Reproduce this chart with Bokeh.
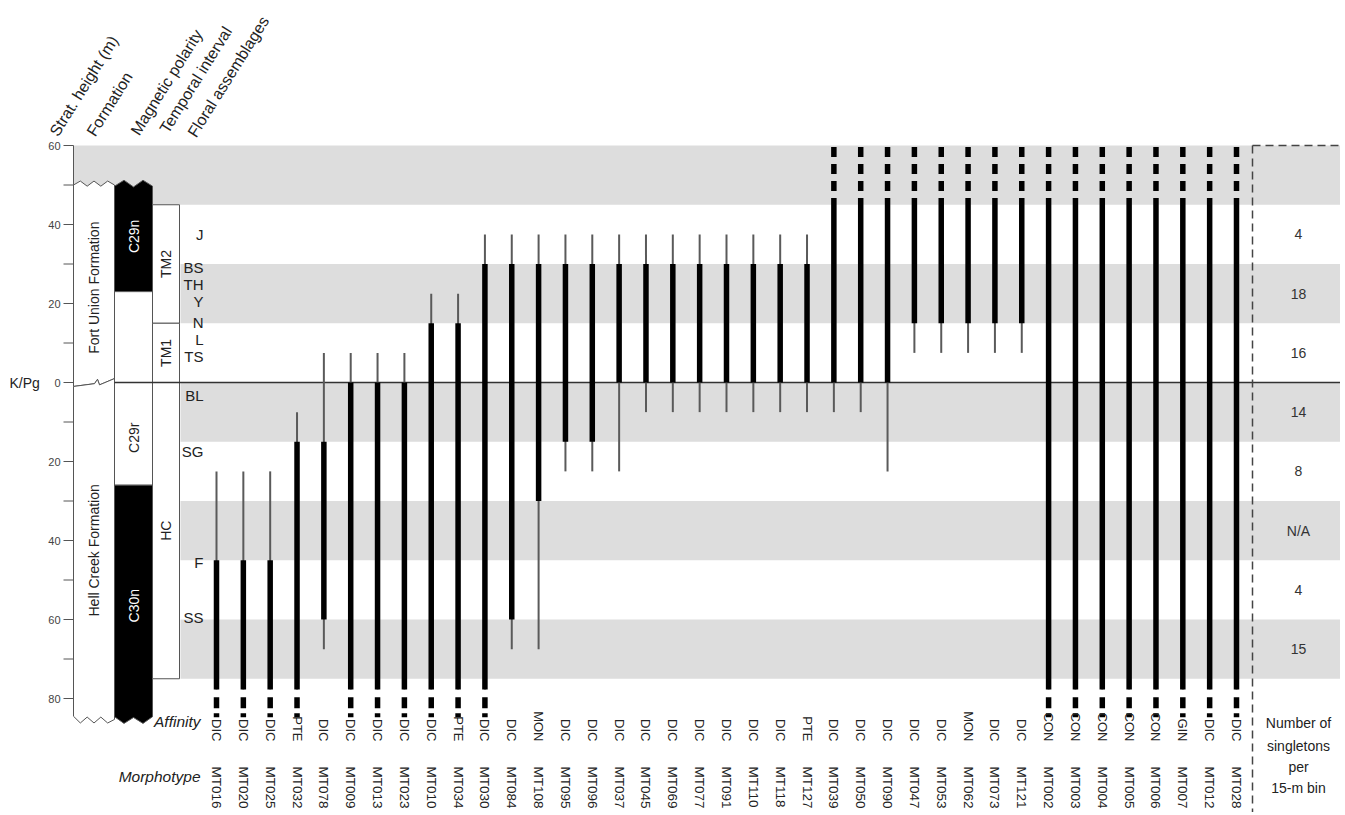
import numpy as np
from bokeh.plotting import figure
from bokeh.models import Range1d
from bokeh.core.properties import value
from bokeh.embed import file_html
from bokeh.resources import INLINE

# ---------------- data ----------------
morphotypes = ["MT016", "MT020", "MT025", "MT032", "MT078", "MT009", "MT013", "MT023",
               "MT010", "MT034", "MT030", "MT084", "MT108", "MT095", "MT096", "MT037",
               "MT045", "MT069", "MT077", "MT091", "MT110", "MT118", "MT127", "MT039",
               "MT050", "MT090", "MT047", "MT053", "MT062", "MT073", "MT121", "MT002",
               "MT003", "MT004", "MT005", "MT006", "MT007", "MT012", "MT028"]
affinity = ["DIC", "DIC", "DIC", "PTE", "DIC", "DIC", "DIC", "DIC",
            "DIC", "PTE", "DIC", "DIC", "MON", "DIC", "DIC", "DIC",
            "DIC", "DIC", "DIC", "DIC", "DIC", "DIC", "PTE", "DIC",
            "DIC", "DIC", "DIC", "DIC", "MON", "DIC", "DIC", "CON",
            "CON", "CON", "CON", "CON", "GIN", "DIC", "DIC"]
# stratigraphic heights in m (negative = below K/Pg boundary)
range_top = [-45, -45, -45, -15, -15, 0, 0, 0,
             15, 15, 30, 30, 30, 30, 30, 30,
             30, 30, 30, 30, 30, 30, 30, 45,
             45, 45, 45, 45, 45, 45, 45, 45,
             45, 45, 45, 45, 45, 45, 45]
range_bottom = [-75, -75, -75, -75, -60, -75, -75, -75,
                -75, -75, -75, -60, -30, -15, -15, 0,
                0, 0, 0, 0, 0, 0, 0, 0,
                0, 0, 15, 15, 15, 15, 15, -75,
                -75, -75, -75, -75, -75, -75, -75]
nan = float("nan")
tail_top = [-22.5, -22.5, -22.5, -7.5, 7.5, 7.5, 7.5, 7.5,
            22.5, 22.5, 37.5, 37.5, 37.5, 37.5, 37.5, 37.5,
            37.5, 37.5, 37.5, 37.5, 37.5, 37.5, 37.5, nan,
            nan, nan, nan, nan, nan, nan, nan, nan,
            nan, nan, nan, nan, nan, nan, nan]
tail_bottom = [nan, nan, nan, nan, -67.5, nan, nan, nan,
               nan, nan, nan, -67.5, -67.5, -22.5, -22.5, -22.5,
               -7.5, -7.5, -7.5, -7.5, -7.5, -7.5, -7.5, -7.5,
               -7.5, -22.5, 7.5, 7.5, 7.5, 7.5, 7.5, nan,
               nan, nan, nan, nan, nan, nan, nan]
open_top = [False] * 23 + [True] * 16
open_bottom = [True, True, True, True, False, True, True, True,
               True, True, True, False, False, False, False, False,
               False, False, False, False, False, False, False, False,
               False, False, False, False, False, False, False, True,
               True, True, True, True, True, True, True]

bin_edges = [60, 45, 30, 15, 0, -15, -30, -45, -60, -75]
singletons = ["", "4", "18", "16", "14", "8", "N/A", "4", "15"]

formations = ["Fort Union Formation", "Hell Creek Formation"]
formation_top = [50, 0]
formation_bottom = [0, -85]

chrons = ["C29n", "C29r", "C30n"]
chron_top = [50, 23, -26]
chron_bottom = [23, -26, -85]
chron_fill = ["black", "white", "black"]

intervals = ["TM2", "TM1", "HC"]
interval_top = [45, 15, 0]
interval_bottom = [15, 0, -75]

floral = ["J", "BS", "TH", "Y", "N", "L", "TS", "BL", "SG", "F", "SS"]
floral_y = [37.5, 29.1, 24.8, 20.5, 15.2, 10.9, 6.6, -3.3, -17.5, -45.6, -59.5]

height_ticks = [-80, -60, -40, -20, 0, 20, 40, 60]
height_minor = [-70, -50, -30, -10, 10, 30, 50]

# ---------------- layout helpers (image pixel -> data) ----------------
DX = 1020.0 / 38.0      # px per column
X0 = 216.0              # image x of column 0
PPM = 3.95              # px per metre
Y0 = 382.0              # image y of 0 m
W, H = 1340, 812


def PX(xi):
    return (xi - X0) / DX


def PY(yi):
    return (Y0 - yi) / PPM


FONT = "Liberation Sans"
TXT = "#222222"

xl, xr = PX(0), PX(W)
yb, yt = PY(H), PY(0)

p = figure(width=W, height=H, x_range=Range1d(xl, xr), y_range=Range1d(yb, yt),
           output_backend="svg", toolbar_location=None, x_axis_location=None,
           y_axis_location=None, min_border=0)
p.grid.visible = False
p.outline_line_color = None
p.background_fill_color = "white"

# ---------------- grey 15-m bins ----------------
tops = np.array(bin_edges[:-1], float)
bots = np.array(bin_edges[1:], float)
grey = np.arange(len(tops)) % 2 == 0
lefts = np.where(np.arange(len(tops)) == 0, PX(73), PX(180))
p.quad(left=lefts[grey], right=xr + 1, top=tops[grey], bottom=bots[grey],
       fill_color="#dddddd", line_color=None)

XF0, XF1 = PX(73), PX(114)
XP0, XP1 = PX(114), PX(152)
XT0, XT1 = PX(152), PX(179)

# ---------------- height axis (ticks from the tick arrays) ----------------
all_ticks = height_ticks + height_minor
p.segment(x0=[PX(63)] * len(all_ticks), y0=all_ticks, x1=[XF0] * len(all_ticks), y1=all_ticks,
          line_color="#555555", line_width=1)
p.segment(x0=[XF0], y0=[max(height_ticks)], x1=[XF0], y1=[formation_top[0]],
          line_color="#555555", line_width=1)
p.text(x=[PX(60)] * len(height_ticks), y=height_ticks, text=[str(abs(t)) for t in height_ticks],
       text_align="right", text_baseline="middle", text_font=value(FONT),
       text_font_size="11px", text_color="#444444")
p.text(x=[PX(9)], y=[0], text=["K/Pg"], text_align="left", text_baseline="middle",
       text_font=value(FONT), text_font_size="14px", text_color=TXT)

# ---------------- formation column ----------------
def xs_lin(a, b, n):
    return list(np.linspace(a, b, n))

zz_top_f = [0.0, 1.0, -0.3, 1.0, -0.3, 1.0, 0.0]
zz_bot_f = [0.5, -1.2, 0.3, -1.2, 0.3, -1.2, -0.3]
fx = xs_lin(XF0, XF1, 7)
kpg_x = [XF0, PX(94), PX(97), PX(99), XF1]
kpg_y = [-1.0, -0.3, 0.8, -0.6, 1.0]
fu_x = fx + kpg_x[::-1]
fu_y = [formation_top[0] + d for d in zz_top_f] + kpg_y[::-1]
hc_x = kpg_x + fx[::-1]
hc_y = kpg_y + [formation_bottom[1] + d for d in zz_bot_f][::-1]
p.patches(xs=[fu_x, hc_x], ys=[fu_y, hc_y], fill_color="white", line_color="#555555", line_width=1)

form_label_y = [24.0, -42.5]
p.text(x=[(XF0 + XF1) / 2] * 2, y=form_label_y, text=formations, angle=np.pi / 2,
       text_align="center", text_baseline="middle", text_font=value(FONT),
       text_font_size="14px", text_color=TXT)

# ---------------- magnetic polarity ----------------
px_ = xs_lin(XP0, XP1, 5)
zz_top_p = [-0.3, 1.2, -0.5, 1.2, -0.3]
zz_bot_p = [0.4, -1.3, 0.2, -1.3, 0.4]
pol_x, pol_y = [], []
for i, (t, b) in enumerate(zip(chron_top, chron_bottom)):
    if i == 0:
        xs = px_ + [XP1, XP0]
        ys = [t + d for d in zz_top_p] + [b, b]
    elif i == len(chron_top) - 1:
        xs = [XP0, XP1] + px_[::-1]
        ys = [t, t] + [b + d for d in zz_bot_p][::-1]
    else:
        xs = [XP0, XP1, XP1, XP0]
        ys = [t, t, b, b]
    pol_x.append(xs)
    pol_y.append(ys)
p.patches(xs=pol_x, ys=pol_y, fill_color=chron_fill, line_color="#555555", line_width=1)
chron_label_y = [37.0, -14.0, -56.5]
p.text(x=[(XP0 + XP1) / 2] * 3, y=chron_label_y, text=chrons, angle=np.pi / 2,
       text_align="center", text_baseline="middle", text_font=value(FONT),
       text_font_size="14px", text_color=["white", TXT, "white"])

# ---------------- temporal interval ----------------
p.quad(left=XT0, right=XT1, top=interval_top, bottom=interval_bottom,
       fill_color="white", line_color="#555555", line_width=1)
p.text(x=[(XT0 + XT1) / 2] * 3,
       y=[(t + b) / 2 for t, b in zip(interval_top, interval_bottom)],
       text=intervals, angle=np.pi / 2, text_align="center", text_baseline="middle",
       text_font=value(FONT), text_font_size="14px", text_color=TXT)

# ---------------- floral assemblages ----------------
p.text(x=[PX(203)] * len(floral), y=floral_y, text=floral, text_align="right",
       text_baseline="middle", text_font=value(FONT), text_font_size="15px", text_color=TXT)

# ---------------- K/Pg line ----------------
p.segment(x0=[XP0], y0=[0], x1=[xr + 1], y1=[0], line_color="#333333", line_width=1.5)

# ---------------- range bars ----------------
idx = np.arange(len(morphotypes), dtype=float)
top = np.array(range_top, float)
bot = np.array(range_bottom, float)
ot = np.array(open_top)
ob = np.array(open_bottom)
TOP_OVER, BOT_OVER = 1.7, 2.7
solid_top = np.where(ot, top + TOP_OVER, top)
solid_bot = np.where(ob, bot - BOT_OVER, bot)
tt = np.array(tail_top, float)
tb = np.array(tail_bottom, float)
thin_top = np.where(np.isnan(tt), solid_top, tt)
thin_bot = np.where(np.isnan(tb), solid_bot, tb)

p.segment(x0=idx, y0=thin_top, x1=idx, y1=thin_bot, line_color="#5a5a5a", line_width=2)
p.segment(x0=idx, y0=solid_top, x1=idx, y1=solid_bot, line_color="black", line_width=5.5)
p.segment(x0=idx[ot], y0=top[ot] + 14.6, x1=idx[ot], y1=top[ot] + 3.3,
          line_color="black", line_width=5.5, line_dash="10 7")
p.segment(x0=idx[ob], y0=bot[ob] - 4.7, x1=idx[ob], y1=bot[ob] - 9.8,
          line_color="black", line_width=5.5, line_dash="11 5 4 40")

# ---------------- singleton column ----------------
XD = PX(1252)
p.segment(x0=[XD, XD], y0=[60, 60], x1=[XD, xr + 1], y1=[yb - 1, 60],
          line_color="#444444", line_width=1.5, line_dash="8 5")
XS = PX(1298)
p.text(x=[XS] * len(singletons), y=list((tops + bots) / 2), text=singletons,
       text_align="center", text_baseline="middle", text_font=value(FONT),
       text_font_size="14px", text_color="#333333")
p.text(x=[XS] * 4, y=[PY(722), PY(745), PY(766), PY(787)],
       text=["Number of", "singletons", "per", "15-m bin"], text_align="center",
       text_baseline="middle", text_font=value(FONT), text_font_size="14px", text_color=TXT)

# ---------------- bottom labels ----------------
p.text(x=idx, y=[PY(741)] * len(idx), text=affinity, angle=-np.pi / 2, text_align="right",
       text_baseline="middle", text_font=value(FONT), text_font_size="13px", text_color=TXT)
p.text(x=idx, y=[PY(766)] * len(idx), text=morphotypes, angle=-np.pi / 2, text_align="left",
       text_baseline="middle", text_font=value(FONT), text_font_size="13.5px", text_color=TXT)
p.text(x=[PX(200), PX(200)], y=[PY(721), PY(776)], text=["Affinity", "Morphotype"],
       text_align="right", text_baseline="middle", text_font=value(FONT),
       text_font_size="15.5px", text_font_style="italic", text_color=TXT)

# ---------------- column headers ----------------
ang = np.deg2rad(58)
header_text = ["Strat. height (m)", "Formation", "Magnetic polarity", "Temporal interval",
               "Floral assemblages"]
header_px = [53, 90, 134, 163, 191]
header_py = [134, 134, 133, 131, 135]
p.text(x=[PX(v) for v in header_px], y=[PY(v) for v in header_py], text=header_text,
       angle=ang, text_align="left", text_baseline="alphabetic", text_font=value(FONT),
       text_font_size="16px", text_color=TXT)

open("out.html", "w").write(file_html(p, INLINE))
